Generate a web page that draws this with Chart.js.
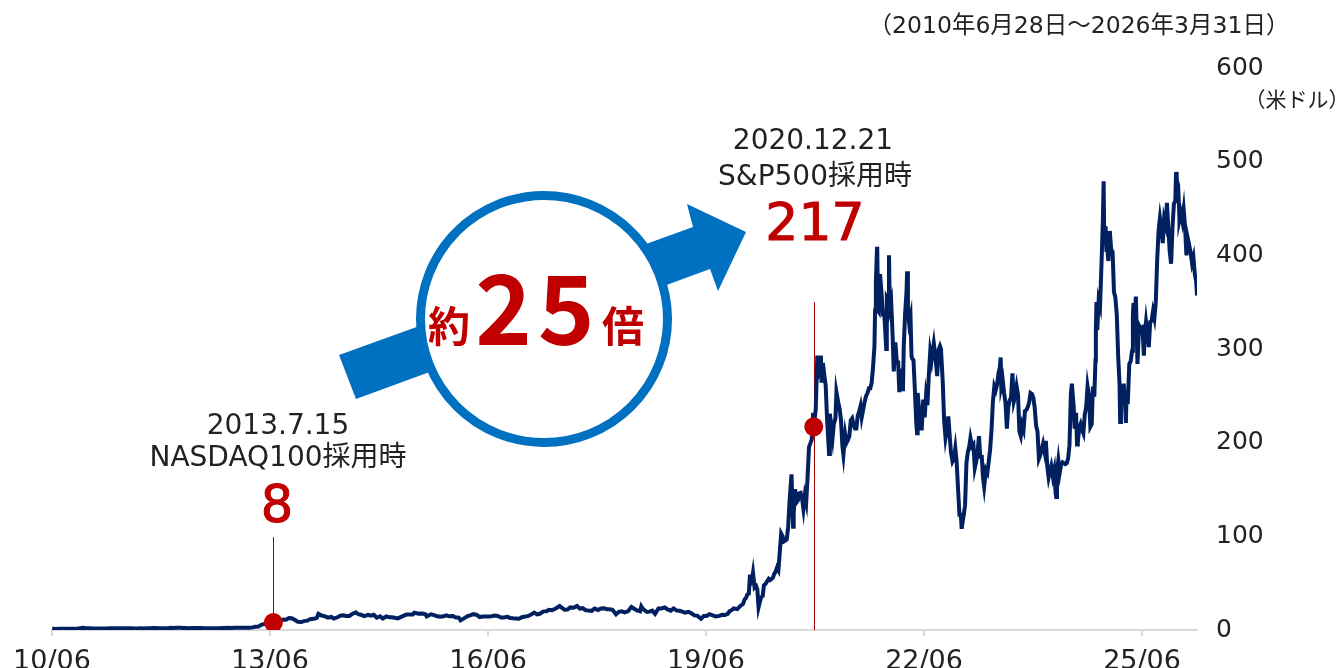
<!DOCTYPE html>
<html>
<head>
<meta charset="utf-8">
<script src="https://cdn.jsdelivr.net/npm/chart.js@4/dist/chart.umd.min.js"></script>
<style>
  html, body { margin:0; padding:0; background:#fff; }
  #wrap { position:relative; width:1341px; height:668px; overflow:hidden; }
  #c { position:absolute; left:0; top:0; }
  svg { position:absolute; left:0; top:0; }
  .t { position:absolute; transform:translate(-50%,-50%); white-space:nowrap; line-height:1;
       font-family:'DejaVu Sans','Noto Sans CJK JP',sans-serif; color:#222; }
  .red { color:#c00000; }
  .big { font-family:'Noto Sans CJK JP',sans-serif; font-weight:700; color:#c00000; }
</style>
</head>
<body>
<div id="wrap">
  <canvas id="c" width="1341" height="668"></canvas>
  <svg width="1341" height="668" viewBox="0 0 1341 668">
    <polygon points="339,355 693,227 687,204 746,232 718,291 710,269 356,399" fill="#0070c0"/>
    <circle cx="544" cy="319" r="123.5" fill="#ffffff" stroke="#0070c0" stroke-width="9"/>
  </svg>
  <div class="t" style="left:1079px;top:26px;font-size:23.5px;">（2010年6月28日～2026年3月31日）</div>
  <div class="t" style="left:1297px;top:100px;font-size:21px;">（米ドル）</div>

  <div class="t" style="left:278px;top:425px;font-size:28px;">2013.7.15</div>
  <div class="t" style="left:278px;top:457px;font-size:28px;">NASDAQ100採用時</div>
  <div class="t red" style="left:277px;top:504px;font-size:51px;-webkit-text-stroke:1px #c00000;">8</div>

  <div class="t" style="left:813px;top:140px;font-size:28px;">2020.12.21</div>
  <div class="t" style="left:815px;top:176px;font-size:28px;">S&amp;P500採用時</div>
  <div class="t red" style="left:815px;top:222px;font-size:52px;-webkit-text-stroke:1px #c00000;">217</div>

  <div class="t big" style="left:449px;top:324px;font-size:42px;">約</div>
  <div class="t big" style="left:538px;top:304px;font-size:96px;letter-spacing:6px;">25</div>
  <div class="t big" style="left:623px;top:324px;font-size:42px;">倍</div>
</div>
<script>
// ---------- data ----------
const tickDates  = ['2010-06-28','2013-06-28','2016-06-28','2019-06-28','2022-06-28','2025-06-28'];
const tickLabels = ['10/06','13/06','16/06','19/06','22/06','25/06'];
const yTicks     = [0,100,200,300,400,500,600];
const rangeStart = '2010-06-28';
const rangeEnd   = '2026-03-31';

const markerDates  = ['2013-07-15','2020-12-21'];
const markerValues = [8, 217];

const datesEarly = [
'2010-06-29','2010-07-15','2010-08-02','2010-08-16','2010-09-01','2010-09-15','2010-10-01','2010-10-15','2010-11-01','2010-11-15','2010-12-01','2010-12-15',
'2011-01-03','2011-01-18','2011-02-01','2011-02-15','2011-03-01','2011-03-15','2011-04-01','2011-04-15','2011-05-02','2011-05-16','2011-06-01','2011-06-15',
'2011-07-01','2011-07-15','2011-08-01','2011-08-15','2011-09-01','2011-09-15','2011-10-03','2011-10-17','2011-11-01','2011-11-15','2011-12-01','2011-12-15',
'2012-01-03','2012-01-17','2012-02-01','2012-02-15','2012-03-01','2012-03-15','2012-04-02','2012-04-16','2012-05-01','2012-05-15','2012-06-01','2012-06-15',
'2012-07-02','2012-07-16','2012-08-01','2012-08-15','2012-09-04','2012-09-17','2012-10-01','2012-10-15','2012-11-01','2012-11-15','2012-12-03','2012-12-17',
'2013-01-02','2013-01-16','2013-02-01','2013-02-15','2013-03-01','2013-03-15','2013-04-01','2013-04-15','2013-05-01','2013-05-15','2013-05-31','2013-06-14',
'2013-06-28','2013-07-15','2013-08-01','2013-08-15','2013-09-03','2013-09-16','2013-10-01','2013-10-15','2013-11-01','2013-11-15','2013-12-02','2013-12-16',
'2014-01-02','2014-01-15','2014-02-03','2014-02-18','2014-02-26','2014-03-14','2014-04-01','2014-04-15','2014-05-01','2014-05-15','2014-06-02','2014-06-16',
'2014-07-01','2014-07-15','2014-08-01','2014-08-15','2014-09-02','2014-09-15','2014-10-01','2014-10-15','2014-11-03','2014-11-17','2014-12-01','2014-12-16',
'2015-01-02','2015-01-15','2015-02-02','2015-02-17','2015-03-02','2015-03-16','2015-04-01','2015-04-15','2015-05-01','2015-05-15','2015-06-01','2015-06-15',
'2015-06-23','2015-07-15','2015-08-03','2015-08-17','2015-08-24','2015-09-15','2015-10-01','2015-10-15','2015-11-02','2015-11-16','2015-12-01','2015-12-15',
'2016-01-04','2016-01-15','2016-02-01','2016-02-10','2016-02-29','2016-03-15','2016-04-01','2016-04-15','2016-05-02','2016-05-16','2016-06-01','2016-06-15',
'2016-07-01','2016-07-15','2016-08-01','2016-08-15','2016-09-01','2016-09-15','2016-10-03','2016-10-17','2016-11-01','2016-11-15','2016-12-01','2016-12-15',
'2017-01-03','2017-01-17','2017-02-01','2017-02-15','2017-03-01','2017-03-15','2017-04-03','2017-04-17','2017-05-01','2017-05-15','2017-06-01','2017-06-23',
'2017-07-03','2017-07-17','2017-08-01','2017-08-15','2017-09-01','2017-09-18','2017-10-02','2017-10-16','2017-11-01','2017-11-15','2017-12-01','2017-12-15',
'2018-01-02','2018-01-16','2018-02-01','2018-02-15','2018-03-01','2018-03-15','2018-04-02','2018-04-16','2018-05-01','2018-05-15','2018-06-01','2018-06-18',
'2018-07-02','2018-07-16','2018-08-01','2018-08-07','2018-08-15','2018-09-04','2018-09-17','2018-10-01','2018-10-15','2018-11-01','2018-11-15','2018-12-03',
'2018-12-17','2019-01-02','2019-01-16','2019-02-01','2019-02-15','2019-03-01','2019-03-15','2019-04-01','2019-04-15','2019-05-01','2019-05-15','2019-06-03',
'2019-06-17','2019-07-01','2019-07-15','2019-08-01','2019-08-15','2019-09-03','2019-09-16','2019-10-01','2019-10-15','2019-10-24','2019-11-01','2019-11-15',
'2019-12-02','2019-12-16','2019-12-31'
];
const pricesEarly = [
1.59,1.2,1.3,1.35,1.33,1.4,1.38,1.37,1.45,2.0,2.3,2.0,
1.8,1.6,1.6,1.6,1.6,1.55,1.7,1.8,1.9,1.8,1.95,1.9,
1.95,1.85,1.85,1.6,1.6,1.8,1.6,2.0,2.0,2.2,2.2,1.95,
1.9,1.8,2.0,2.3,2.25,2.5,2.4,2.2,2.2,1.9,2.1,2.1,
2.1,2.1,1.8,1.9,1.95,1.95,1.95,1.9,2.1,2.2,2.3,2.2,
2.4,2.4,2.5,2.3,2.3,2.5,2.8,3.4,3.6,5.5,6.5,6.7,
7.5,8.0,9.0,9.6,11.2,11.0,12.7,12.5,10.7,8.7,8.5,9.5,
10.0,11.6,11.9,13.0,17.2,15.4,14.6,13.2,13.9,12.2,13.6,15.2,
15.8,15.0,15.0,17.2,18.8,16.8,16.0,14.9,16.1,15.3,16.3,13.1,
14.6,12.3,14.5,13.6,13.5,13.0,12.4,13.8,15.3,16.5,16.6,16.6,
18.4,17.4,17.5,16.9,14.5,16.8,15.8,14.6,14.2,14.6,15.7,14.6,
14.9,13.5,13.1,10.3,12.7,14.6,15.8,16.9,16.2,13.8,14.4,14.4,
14.4,14.6,15.4,15.0,13.3,13.4,14.0,12.9,12.6,12.4,12.1,13.6,
14.5,15.0,16.7,18.6,16.6,17.3,19.9,20.1,21.5,21.2,22.7,25.6,
23.8,21.7,21.9,24.1,23.7,25.6,22.8,23.3,21.1,20.7,20.4,22.9,
21.4,22.9,23.3,22.2,22.2,21.6,16.8,19.4,20.0,18.9,19.9,24.7,
22.7,21.0,20.1,25.3,22.5,19.2,19.6,20.7,17.2,23.0,23.0,24.0,
22.0,20.7,23.0,20.7,20.5,19.6,18.4,19.3,17.8,15.6,15.3,11.9,
15.0,15.0,16.9,15.5,14.5,15.1,16.2,16.0,17.3,19.9,20.9,23.0,
22.3,25.4,27.9
];

const datesLate = [
'2020-01-08','2020-01-15','2020-01-22','2020-01-29','2020-02-04','2020-02-05','2020-02-12','2020-02-19','2020-02-27','2020-03-06','2020-03-12','2020-03-18',
'2020-03-23','2020-03-31','2020-04-08','2020-04-14','2020-04-22','2020-04-30','2020-05-08','2020-05-15','2020-05-22','2020-05-29','2020-06-05','2020-06-12',
'2020-06-19','2020-06-26','2020-07-02','2020-07-10','2020-07-17','2020-07-24','2020-07-31','2020-08-07','2020-08-14','2020-08-21','2020-08-31','2020-09-08',
'2020-09-11','2020-09-18','2020-09-25','2020-10-02','2020-10-09','2020-10-16','2020-10-23','2020-10-30','2020-11-06','2020-11-13','2020-11-20','2020-11-27',
'2020-12-04','2020-12-11','2020-12-18','2020-12-21','2020-12-31',
'2021-01-08','2021-01-15','2021-01-22','2021-01-26','2021-01-29','2021-02-05','2021-02-12','2021-02-19','2021-02-26','2021-03-05','2021-03-08','2021-03-12',
'2021-03-19','2021-03-26','2021-04-01','2021-04-09','2021-04-14','2021-04-23','2021-04-30','2021-05-07','2021-05-14','2021-05-19','2021-05-28','2021-06-04',
'2021-06-11','2021-06-18','2021-06-25','2021-07-02','2021-07-09','2021-07-16','2021-07-23','2021-07-30','2021-08-06','2021-08-13','2021-08-19','2021-08-27',
'2021-09-03','2021-09-10','2021-09-17','2021-09-24','2021-10-01','2021-10-08','2021-10-15','2021-10-22','2021-10-25','2021-10-29','2021-11-04','2021-11-05',
'2021-11-09','2021-11-12','2021-11-19','2021-11-26','2021-12-03','2021-12-10','2021-12-20','2021-12-23','2021-12-31',
'2022-01-03','2022-01-07','2022-01-14','2022-01-21','2022-01-27','2022-02-04','2022-02-11','2022-02-18','2022-02-24','2022-03-04','2022-03-11','2022-03-14',
'2022-03-18','2022-03-25','2022-04-01','2022-04-04','2022-04-08','2022-04-14','2022-04-21','2022-04-26','2022-04-29','2022-05-06','2022-05-13','2022-05-20',
'2022-05-24','2022-05-27','2022-06-03','2022-06-10','2022-06-16','2022-06-24','2022-07-01','2022-07-08','2022-07-15','2022-07-22','2022-07-29','2022-08-05',
'2022-08-12','2022-08-16','2022-08-26','2022-09-02','2022-09-09','2022-09-16','2022-09-21','2022-09-30','2022-10-07','2022-10-14','2022-10-21','2022-10-28',
'2022-11-04','2022-11-10','2022-11-18','2022-11-25','2022-12-02','2022-12-09','2022-12-16','2022-12-23','2022-12-30',
'2023-01-03','2023-01-06','2023-01-13','2023-01-20','2023-01-27','2023-02-03','2023-02-10','2023-02-16','2023-02-24','2023-03-03','2023-03-10','2023-03-17',
'2023-03-24','2023-03-31','2023-04-06','2023-04-14','2023-04-20','2023-04-26','2023-05-05','2023-05-12','2023-05-19','2023-05-26','2023-06-02','2023-06-09',
'2023-06-16','2023-06-23','2023-06-30','2023-07-07','2023-07-14','2023-07-18','2023-07-21','2023-07-28','2023-08-04','2023-08-11','2023-08-18','2023-08-25',
'2023-09-01','2023-09-08','2023-09-15','2023-09-22','2023-09-29','2023-10-06','2023-10-13','2023-10-20','2023-10-27','2023-11-03','2023-11-10','2023-11-17',
'2023-11-24','2023-12-01','2023-12-08','2023-12-15','2023-12-22','2023-12-29',
'2024-01-05','2024-01-12','2024-01-19','2024-01-26','2024-02-02','2024-02-09','2024-02-16','2024-02-23','2024-03-01','2024-03-08','2024-03-15','2024-03-22',
'2024-03-28','2024-04-05','2024-04-12','2024-04-19','2024-04-22','2024-04-26','2024-05-03','2024-05-10','2024-05-17','2024-05-24','2024-05-31','2024-06-07',
'2024-06-14','2024-06-21','2024-06-28','2024-07-05','2024-07-10','2024-07-19','2024-07-24','2024-07-31','2024-08-05','2024-08-09','2024-08-16','2024-08-23',
'2024-08-30','2024-09-06','2024-09-13','2024-09-20','2024-09-27','2024-10-04','2024-10-11','2024-10-18','2024-10-24','2024-10-31','2024-11-06','2024-11-08',
'2024-11-11','2024-11-15','2024-11-22','2024-11-29','2024-12-06','2024-12-13','2024-12-17','2024-12-20','2024-12-27','2024-12-31',
'2025-01-03','2025-01-10','2025-01-17','2025-01-24','2025-01-31','2025-02-07','2025-02-14','2025-02-21','2025-02-28','2025-03-07','2025-03-10','2025-03-14',
'2025-03-21','2025-03-28','2025-04-04','2025-04-08','2025-04-11','2025-04-17','2025-04-25','2025-05-02','2025-05-09','2025-05-13','2025-05-16','2025-05-23',
'2025-05-28','2025-06-05','2025-06-13','2025-06-20','2025-06-27','2025-07-02','2025-07-07','2025-07-11','2025-07-18','2025-07-25','2025-08-01','2025-08-08',
'2025-08-15','2025-08-22','2025-08-29','2025-09-05','2025-09-12','2025-09-19','2025-09-26','2025-10-03','2025-10-10','2025-10-17','2025-10-24','2025-10-31',
'2025-11-07','2025-11-14','2025-11-21','2025-11-28','2025-12-05','2025-12-12','2025-12-16','2025-12-19','2025-12-26','2025-12-31',
'2026-01-02','2026-01-09','2026-01-16','2026-01-23','2026-01-30','2026-02-06','2026-02-13','2026-02-20','2026-02-27','2026-03-06','2026-03-13','2026-03-20',
'2026-03-27','2026-03-31'
];
const pricesLate = [
32.8,34.2,38.1,38.8,59.1,48.9,51.5,61.2,45.3,46.8,43.0,24.1,
28.5,34.9,36.4,47.7,49.2,52.1,54.6,53.3,54.4,55.7,59.9,62.4,
66.7,63.9,80.6,102.9,100.1,94.5,95.4,96.7,110.0,136.7,166.1,110.1,
124.2,150.4,136.2,138.4,145.9,146.4,140.4,129.3,143.3,136.2,163.2,195.2,
199.3,203.3,231.7,217.0,235.2,
293,276,282,293,264,285,272,261,225,199,188,231,
218,206,220,226,254,243,236,224,196,187,209,200,
203,207,224,226,219,215,215,229,233,239,227,236,
244,250,253,258,258,264,281,303,341,371,409,407,
341,340,380,361,338,339,300,355,352,
400,343,350,315,276,307,287,286,254,279,265,255,
302,338,361,383,341,328,335,293,290,288,256,221,
210,253,235,232,213,246,227,250,240,272,297,288,
300,306,288,271,299,303,300,265,223,205,214,228,
207,190,180,183,194,179,150,123,123,
108,113,122,133,178,190,196,205,196,198,173,180,
190,207,185,185,163,153,171,168,180,193,214,244,
260,256,262,274,281,291,260,267,253,243,215,238,
245,248,274,244,250,260,251,212,207,219,214,234,
235,238,243,253,252,248,
237,218,212,183,187,193,199,191,202,175,163,170,
175,164,171,147,142,168,181,168,177,179,178,177,
178,183,197,252,263,239,215,232,198,200,216,220,
214,210,230,238,260,250,217,220,260,249,288,321,
350,320,352,346,389,436,479,421,431,404,
410,394,426,406,404,361,355,337,293,262,222,249,
248,263,239,221,252,241,284,287,298,335,349,339,
356,284,325,322,323,315,293,313,329,316,302,329,
330,340,333,350,395,426,440,429,413,439,433,456,
429,404,391,430,455,458,489,481,475,450,
438,445,437,449,430,400,418,411,403,392,398,380,
372,357
];

// ---------- helpers ----------
function toYear(s) {
  const [y, m, d] = s.split('-').map(Number);
  const t = Date.UTC(y, m - 1, d);
  const a = Date.UTC(y, 0, 1), b = Date.UTC(y + 1, 0, 1);
  return y + (t - a) / (b - a);
}
const dates  = datesEarly.concat(datesLate);
const prices = pricesEarly.concat(pricesLate);

Chart.defaults.font.family = "'DejaVu Sans','Noto Sans CJK JP',sans-serif";

const markerLinePlugin = {
  id: 'markerLines',
  beforeDatasetsDraw(chart) {
    const xs = chart.scales.x, ys = chart.scales.y, ctx = chart.ctx;
    const spans = [[markerValues[0], 99], [0, 350]];
    ctx.save();
    ctx.strokeStyle = '#a00000';
    ctx.lineWidth = 1;
    markerDates.forEach((d, i) => {
      const px = Math.round(xs.getPixelForValue(toYear(d))) + 0.5;
      ctx.beginPath();
      ctx.moveTo(px, ys.getPixelForValue(spans[i][0]));
      ctx.lineTo(px, ys.getPixelForValue(spans[i][1]));
      ctx.stroke();
    });
    ctx.restore();
  }
};

new Chart(document.getElementById('c'), {
  type: 'line',
  data: {
    datasets: [
      {
        label: '採用時',
        data: markerDates.map((d, i) => ({ x: toYear(d), y: markerValues[i] })),
        showLine: false,
        pointRadius: 9.5,
        pointBackgroundColor: '#c00000',
        pointBorderWidth: 0,
        order: 0
      },
      {
        label: '株価',
        data: dates.map((d, i) => ({ x: toYear(d), y: prices[i] })),
        borderColor: '#002060',
        borderWidth: 4,
        pointRadius: 0,
        tension: 0,
        fill: false,
        order: 1
      }
    ]
  },
  options: {
    responsive: false,
    animation: false,
    layout: { padding: { left: 52, top: 68, right: 0, bottom: 0 } },
    plugins: { legend: { display: false }, tooltip: { enabled: false } },
    scales: {
      x: {
        type: 'linear',
        min: toYear(rangeStart),
        max: toYear(rangeEnd),
        afterBuildTicks: s => { s.ticks = tickDates.map(d => ({ value: toYear(d) })); },
        afterFit: s => { s.height = 38; },
        ticks: {
          callback: (v, i) => tickLabels[i],
          font: { size: 27 },
          color: '#222',
          padding: 10,
          maxRotation: 0,
          autoSkip: false
        },
        grid: { drawOnChartArea: false, drawTicks: true, tickLength: 6, color: '#d9d9d9', lineWidth: 2 },
        border: { display: true, color: '#d9d9d9', width: 2 }
      },
      y: {
        position: 'right',
        min: 0,
        max: 600,
        afterBuildTicks: s => { s.ticks = yTicks.map(v => ({ value: v })); },
        afterFit: s => { s.width = 144; },
        ticks: { font: { size: 25 }, color: '#222', padding: 19 },
        grid: { display: false, drawTicks: false },
        border: { display: false }
      }
    }
  },
  plugins: [markerLinePlugin]
});
</script>
</body>
</html>
